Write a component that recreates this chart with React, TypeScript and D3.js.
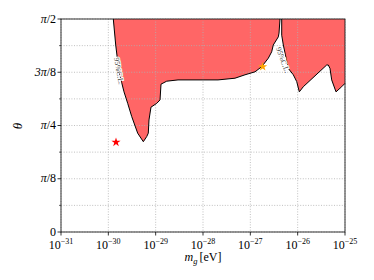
import React from 'react';
import * as d3 from 'd3';

// excluded region (95% C.L.), x = log10(m_g / eV), y = theta / pi
const leftLogM = [
  -29.895, -29.844, -29.775, -29.669, -29.591, -29.506, -29.38, -29.261, -29.189, -29.156,
  -29.141, -29.099, -28.978, -28.908, -28.887, -28.767, -28.528, -27.683, -27.324, -27.113,
  -26.901, -26.76, -26.62, -26.549, -26.515, -26.409, -26.394, -26.373,
];
const leftTheta = [
  0.5, 0.439, 0.376, 0.329, 0.302, 0.271, 0.232, 0.212, 0.224, 0.232,
  0.263, 0.293, 0.302, 0.31, 0.347, 0.354, 0.357, 0.357, 0.361, 0.369,
  0.376, 0.388, 0.408, 0.423, 0.439, 0.458, 0.467, 0.5,
];
const rightLogM = [
  -26.337, -26.337, -26.303, -26.198, -26.092, -26.02, -25.965, -25.881, -25.387, -25.353,
  -25.317, -25.281, -25.19, -25.07, -25.0, -25.0,
];
const rightTheta = [
  0.5, 0.462, 0.439, 0.384, 0.369, 0.353, 0.329, 0.341, 0.392, 0.392,
  0.384, 0.357, 0.329, 0.341, 0.349, 0.5,
];

// benchmark points
const starLogM = [-29.838, -26.739];
const starTheta = [0.2106, 0.388];
const starColors = ['#ff0000', '#ffa500'];

const xTickExps = [-31, -30, -29, -28, -27, -26, -25];
const yTickValues = [0, 1 / 8, 1 / 4, 3 / 8, 1 / 2];
const yTickLabels = [['0', ''], ['π', '/8'], ['π', '/4'], ['3π', '/8'], ['π', '/2']];
const yMinorValues = [1 / 16, 3 / 16, 5 / 16, 7 / 16];

const App = () => {
  const width = 374;
  const height = 280;
  const left = 61, right = 345, top = 19, bottom = 232;

  const x = d3.scaleLog().domain([1e-31, 1e-25]).range([left, right]);
  const y = d3.scaleLinear().domain([0, Math.PI / 2]).range([bottom, top]);

  const line = d3.line<[number, number]>()
    .x(d => x(Math.pow(10, d[0])))
    .y(d => y(d[1] * Math.PI));

  const leftPts = leftLogM.map((m, i) => [m, leftTheta[i]] as [number, number]);
  const rightPts = rightLogM.map((m, i) => [m, rightTheta[i]] as [number, number]);

  const star = d3.symbol().type(d3.symbolStar).size(26)();
  const gridAll = [...yTickValues, ...yMinorValues];
  const font = 'Liberation Serif, DejaVu Serif, serif';

  return (
    <svg width={width} height={height} style={{ position: 'absolute', left: 0, top: 0, background: '#fff' }}
      fontFamily={font}>
      <path d={line(leftPts) + 'Z'} fill="#ff6666" stroke="none" />
      <path d={line(rightPts) + 'Z'} fill="#ff6666" stroke="none" />

      {/* grid */}
      {xTickExps.map(e => (
        <line key={'gx' + e} x1={x(Math.pow(10, e))} x2={x(Math.pow(10, e))} y1={top} y2={bottom}
          stroke="#b0b0b0" strokeWidth={0.8} strokeDasharray="1,1.6" />
      ))}
      {gridAll.map((v, i) => (
        <line key={'gy' + i} x1={left} x2={right} y1={y(v * Math.PI)} y2={y(v * Math.PI)}
          stroke="#b0b0b0" strokeWidth={0.8} strokeDasharray="1,1.6" />
      ))}

      {/* boundaries (open along the frame) */}
      <path d={line(leftPts) || ''} fill="none" stroke="#000" strokeWidth={1} />
      <path d={line(rightPts.slice(0, rightPts.length - 1)) || ''} fill="none" stroke="#000" strokeWidth={1} />

      {/* contour labels */}
      <text x={119} y={71} fontSize={7.5} fill="#444" textAnchor="middle" dy="0.35em"
        transform="rotate(80,119,71)" stroke="#fff" strokeWidth={2} paintOrder="stroke">95%C.L.</text>
      <text x={283} y={60} fontSize={7.5} fill="#444" textAnchor="middle" dy="0.35em"
        transform="rotate(70,283,60)" stroke="#fff" strokeWidth={2} paintOrder="stroke">95%C.L.</text>

      {/* stars */}
      {starLogM.map((m, i) => (
        <path key={'s' + i} d={star || ''} fill={starColors[i]}
          transform={`translate(${x(Math.pow(10, m))},${y(starTheta[i] * Math.PI)})`} />
      ))}

      {/* frame */}
      <rect x={left} y={top} width={right - left} height={bottom - top} fill="none" stroke="#000" strokeWidth={0.8} />

      {/* x axis */}
      {xTickExps.map(e => {
        const px = x(Math.pow(10, e));
        return (
          <g key={'xt' + e}>
            <line x1={px} x2={px} y1={bottom} y2={bottom + 3.5} stroke="#000" strokeWidth={0.8} />
            <text x={px} y={249} fontSize={12} textAnchor="middle">
              10<tspan fontSize={8} dy={-5}>{'−' + Math.abs(e)}</tspan>
            </text>
          </g>
        );
      })}

      {/* y axis */}
      {yTickValues.map((v, i) => {
        const py = y(v * Math.PI);
        return (
          <g key={'yt' + i}>
            <line x1={left - 3.5} x2={left} y1={py} y2={py} stroke="#000" strokeWidth={0.8} />
            <text x={56} y={py} dy="0.3em" fontSize={12} textAnchor="end">
              <tspan fontStyle={yTickLabels[i][0] === '0' ? 'normal' : 'italic'}>{yTickLabels[i][0]}</tspan>
              {yTickLabels[i][1]}
            </text>
          </g>
        );
      })}
      {yMinorValues.map((v, i) => (
        <line key={'ym' + i} x1={left - 2} x2={left} y1={y(v * Math.PI)} y2={y(v * Math.PI)}
          stroke="#000" strokeWidth={0.6} />
      ))}

      {/* axis titles */}
      <text x={203} y={261} fontSize={12} textAnchor="middle">
        <tspan fontStyle="italic">m</tspan>
        <tspan fontStyle="italic" fontSize={8.5} dy={2.5}>g</tspan>
        <tspan dy={-2.5} dx={2}>[eV]</tspan>
      </text>
      <text x={22} y={126} fontSize={13} fontStyle="italic" textAnchor="middle"
        transform="rotate(-90,22,126)">θ</text>
    </svg>
  );
};

export default App;
